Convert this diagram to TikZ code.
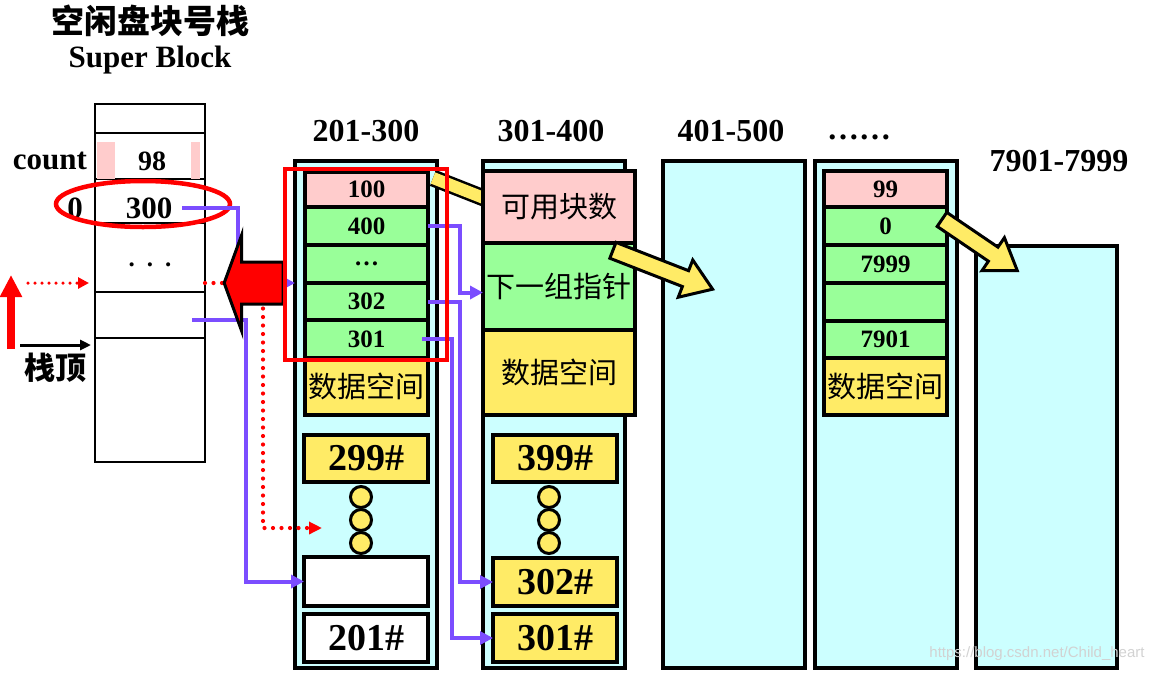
\documentclass[tikz,border=0pt]{standalone}
\usepackage{fontspec}
\setmainfont{Liberation Serif}
\newfontfamily\cjk{Noto Sans CJK SC}
\newfontfamily\wmfont{Liberation Sans}
\usetikzlibrary{arrows.meta,shapes.geometric,shapes.arrows}
\definecolor{cyanbg}{HTML}{CCFFFF}
\definecolor{pinkbg}{HTML}{FFCCCC}
\definecolor{greenbg}{HTML}{99FF99}
\definecolor{yellowbg}{HTML}{FFEB66}
\definecolor{ptrcol}{HTML}{7B4DFF}
\tikzset{
  blk/.style={draw, fill=cyanbg, line width=3.5pt, inner sep=0pt, outer sep=0pt, minimum width=142pt},
  cell/.style={draw, line width=3.5pt, inner sep=0pt, outer sep=0pt, minimum width=123pt, font=\fontsize{25}{25}\selectfont\bfseries},
  pcell/.style={cell, fill=pinkbg},
  gcell/.style={cell, fill=greenbg},
  ycell/.style={cell, fill=yellowbg, font=\cjk\fontsize{29}{29}\selectfont},
  bigcell/.style={cell, fill=yellowbg, minimum width=124pt, minimum height=47pt, font=\fontsize{38}{38}\selectfont\bfseries},
  dotc/.style={circle, draw, fill=yellowbg, line width=3pt, minimum size=21pt, inner sep=0pt},
  row/.style={draw, line width=1.8pt, minimum width=110pt, inner sep=0pt, outer sep=0pt},
  txt/.style={inner sep=0pt, font=\fontsize{31}{31}\selectfont\bfseries},
  lbl/.style={inner sep=0pt, font=\fontsize{32}{32}\selectfont\bfseries},
  pline/.style={ptrcol, line width=4pt, -{Triangle[length=13pt,width=13pt]}},
  rdot/.style={red, line width=4.2pt, line cap=round, dash pattern=on 0pt off 8.5pt},
  fatarr/.style={single arrow, draw=black, line width=3pt, inner xsep=0pt, inner ysep=7pt,
    single arrow head extend=11.5pt, single arrow tip angle=69, fill=yellowbg},
}
\begin{document}
\begin{tikzpicture}[x=1pt, y=-1pt]
    \useasboundingbox (0,0) rectangle (1161,673);

    % super block stack
    \node[inner sep=0pt, font=\cjk\bfseries\fontsize{33}{33}\selectfont] (title) at (150,21) {空闲盘块号栈};
    \node[inner sep=0pt, font=\fontsize{31}{31}\selectfont\bfseries] (sb) at (150,60) {Super Block};
    \node[row, minimum height=29pt] (r0) at (150,118.5) {};
    \node[row, minimum height=46pt] (r1) at (150,156) {};
    \node[row, minimum height=44pt] (r2) at (150,201) {};
    \node[row, minimum height=69pt] (r3) at (150,257.5) {};
    \node[row, minimum height=46pt] (r4) at (150,315) {};
    \node[row, minimum height=124pt] (r5) at (150,400) {};
    \node[fill=pinkbg, minimum width=18pt, minimum height=37pt, inner sep=0pt] (pk1) at (106,160.5) {};
    \node[fill=pinkbg, minimum width=9pt, minimum height=37pt, inner sep=0pt] (pk2) at (195.5,160.5) {};
    \node[txt] (cnt) at (50,161) {count};
    \node[txt, font=\fontsize{28}{28}\selectfont\bfseries] (v98) at (152,161) {98};
    \node[txt] (v0) at (75,208) {0};
    \node[txt] (v300) at (149,208) {300};
    \node[txt, font=\fontsize{25}{25}\selectfont\bfseries] (sdots) at (150,265) {.\hspace{12pt}.\hspace{12pt}.};
    \node[ellipse, draw=red, line width=4.5pt, minimum width=174pt, minimum height=46pt, inner sep=0pt] (sel) at (143,204) {};

    % disk block groups
    \node[blk, minimum height=507pt] (blk1) at (366,414.5) {};
    \node[blk, minimum height=507pt] (blk2) at (554,414.5) {};
    \node[blk, minimum height=507pt] (blk3) at (734,414.5) {};
    \node[blk, minimum height=507pt] (blk4) at (886,414.5) {};
    \node[blk, minimum width=141pt, minimum height=422pt] (blk5) at (1046.5,457) {};
    \node[lbl] (l1) at (366,131) {201-300};
    \node[lbl] (l2) at (551,131) {301-400};
    \node[lbl] (l3) at (731,131) {401-500};
    \node[lbl] (l4) at (859,137) {……};
    \node[lbl] (l5) at (1059,161) {7901-7999};

    % group 201-300
    \node[pcell, minimum height=35pt] (c100) at (366.5,189.5) {100};
    \node[gcell, minimum height=38pt] (c400) at (366.5,226) {400};
    \node[gcell, minimum height=38pt] (cdots) at (366.5,264) {…};
    \node[gcell, minimum height=37pt] (c302) at (366.5,301.5) {302};
    \node[gcell, minimum height=38pt] (c301) at (366.5,339) {301};
    \node[ycell, minimum height=57pt] (data1) at (366.5,386.5) {数据空间};
    \node[bigcell] (b299) at (366,458.5) {299\#};
    \node[dotc] (d1a) at (361,497) {};
    \node[dotc] (d1b) at (361,520) {};
    \node[dotc] (d1c) at (361,543) {};
    \node[bigcell, fill=white, minimum height=49pt] (wbox) at (366,581.5) {};
    \node[bigcell, fill=white, minimum height=48pt] (b201) at (366,638) {201\#};

    \coordinate (bandA) at (433,178);
    \coordinate (bandB) at (560,228);
    \draw[line width=2.5pt, double=yellowbg, double distance=12pt] (bandA) -- (bandB);

    % group 301-400
    \node[pcell, minimum width=152pt, minimum height=72pt, font=\cjk\fontsize{29}{29}\selectfont] (cnum) at (559,207) {可用块数};
    \node[gcell, minimum width=152pt, minimum height=87pt, font=\cjk\fontsize{29}{29}\selectfont] (nxt) at (559,286.5) {下一组指针};
    \node[ycell, minimum width=152pt, minimum height=85pt] (data2) at (559,372.5) {数据空间};
    \node[bigcell] (b399) at (555,458.5) {399\#};
    \node[dotc] (d2a) at (549,497) {};
    \node[dotc] (d2b) at (549,520) {};
    \node[dotc] (d2c) at (549,543) {};
    \node[bigcell, minimum height=48pt] (b302) at (555,582) {302\#};
    \node[bigcell, minimum height=48pt] (b301) at (555,638) {301\#};

    % group before 7901-7999
    \node[pcell, minimum height=36pt] (c99) at (885.5,189) {99};
    \node[gcell, minimum height=38pt] (c0) at (885.5,226) {0};
    \node[gcell, minimum height=38pt] (c7999) at (885.5,264) {7999};
    \node[gcell, minimum height=38pt] (cblank) at (885.5,302) {};
    \node[gcell, minimum height=37pt] (c7901) at (885.5,339.5) {7901};
    \node[ycell, minimum height=57pt] (data4) at (885.5,386.5) {数据空间};

    % pointers
    \draw[pline] (c400.east) -| ([xshift=-23pt,yshift=-6pt]nxt.west) -- ([yshift=-6pt]nxt.west);
    \draw[pline] (c302.east) -| ([xshift=-33pt]b302.west) -- (b302.west);
    \draw[pline] ([xshift=-6pt]c301.east) -| ([xshift=-41pt]b301.west) -- (b301.west);
    \coordinate (rtip) at (322,528);
    \coordinate (ptop) at (283,283);
    \draw[pline] ([xshift=10pt]v300.east) -| ([xshift=-57pt]blk1.west |- ptop) -- (blk1.west |- ptop);
    \draw[pline] ([xshift=-13pt,yshift=-5pt]r4.east) -| ([xshift=-58pt]wbox.west) -- (wbox.west);

    % pop
    \draw[rdot] (r3.east |- ptop) -- (ptop);
    \draw[rdot, -{Triangle[length=13pt,width=12pt]}] ([xshift=-20pt]ptop) |- (rtip);
    \node[fatarr, fill=red, inner ysep=19.5pt, single arrow head extend=27pt, single arrow tip angle=140,
      minimum height=59pt, rotate=180] (popa) at (257.5,283) {};

    \node[fatarr, minimum height=107pt, rotate=-21.3] (ya) at (657,267.5) {};
    \node[fatarr, minimum height=91pt, rotate=-34.2] (yb) at (974.5,241.5) {};

    \node[draw=red, line width=4pt, minimum width=162pt, minimum height=191pt, inner sep=0pt] (grp) at (366,264.5) {};

    % stack top
    \coordinate (upbot) at (11,349);
    \coordinate (uptop) at (11,275);
    \draw[red, line width=8pt, -{Triangle[length=22pt,width=21pt]}] (upbot) -- (uptop);
    \coordinate (ldA) at (28,283);
    \coordinate (ldB) at (89,283);
    \draw[rdot, line width=3.5pt, dash pattern=on 0pt off 7pt, -{Triangle[length=11pt,width=11pt]}] (ldA) -- (ldB);
    \coordinate (tpA) at (20,345);
    \coordinate (tpB) at (91,345);
    \draw[line width=3pt, -{Triangle[length=11pt,width=10pt]}] (tpA) -- (tpB);
    \node[inner sep=0pt, font=\cjk\bfseries\fontsize{31}{31}\selectfont] (top) at (55,368) {栈顶};

    \node[inner sep=0pt, text=gray!35, font=\wmfont\fontsize{15}{15}\selectfont] (wm) at (1037,654) {https://blog.csdn.net/Child\_heart};
\end{tikzpicture}
\end{document}
